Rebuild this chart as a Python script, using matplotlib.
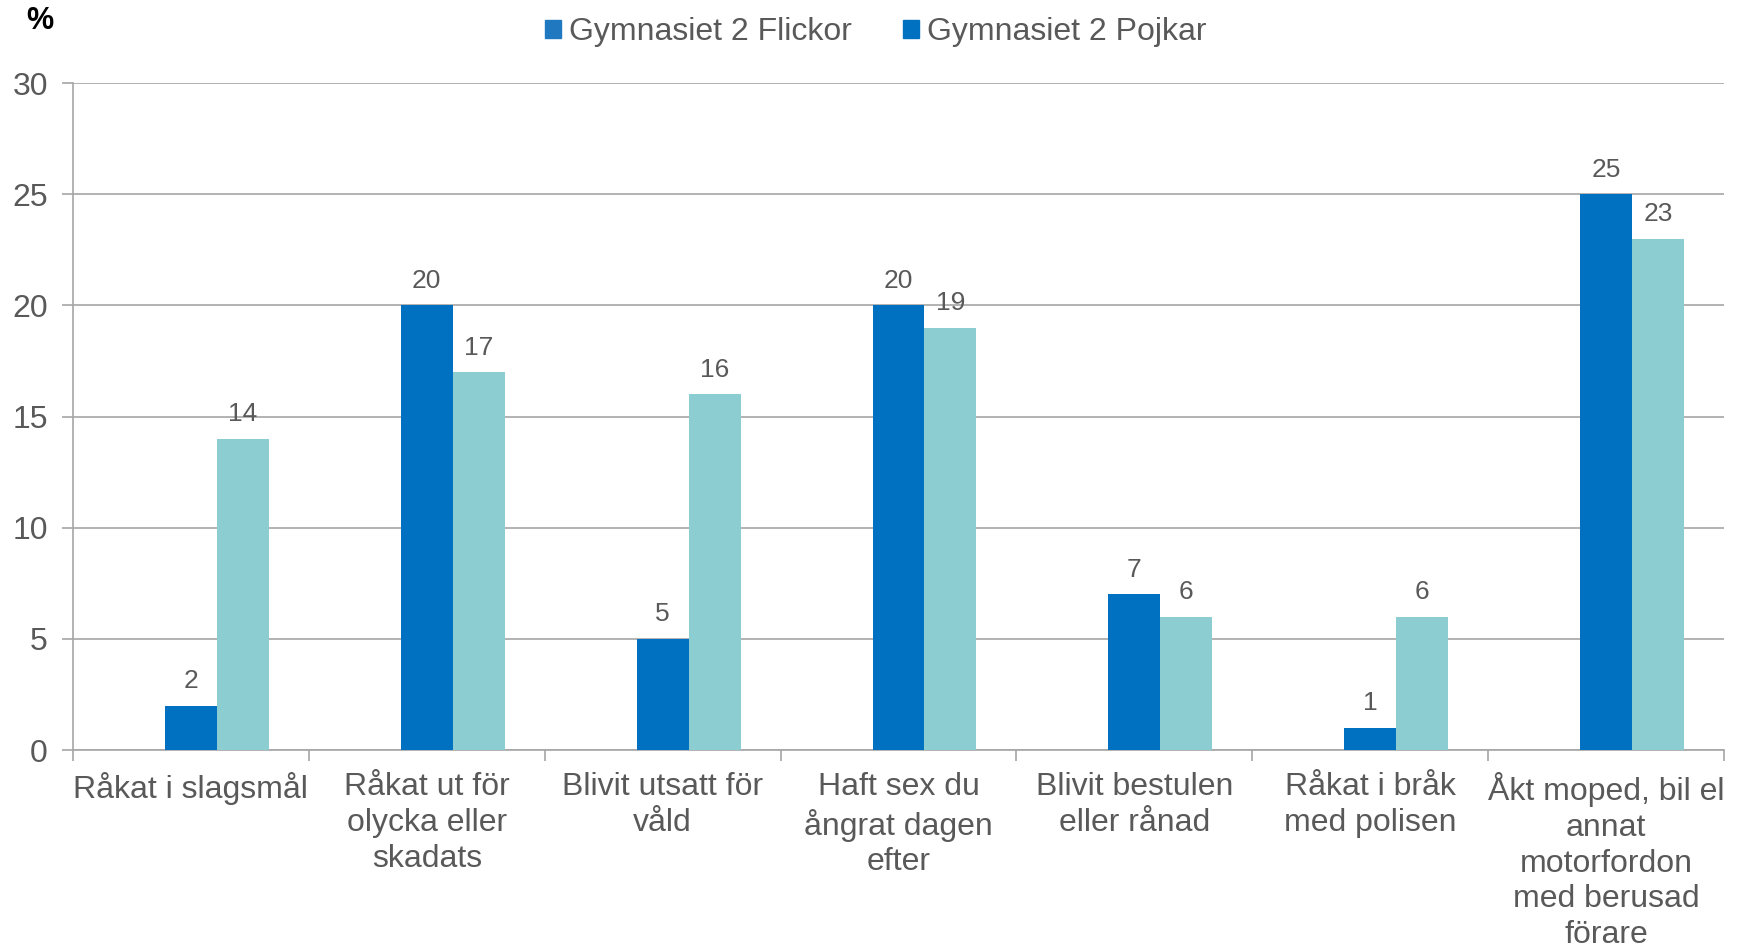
import matplotlib.pyplot as plt
import matplotlib.patches as mpatches
import numpy as np

plt.rcParams['font.family'] = ['Liberation Sans', 'DejaVu Sans']

categories = [
  'Råkat i slagsmål',
  'Råkat ut för\nolycka eller\nskadats',
  'Blivit utsatt för\nvåld',
  'Haft sex du\nångrat dagen\nefter',
  'Blivit bestulen\neller rånad',
  'Råkat i bråk\nmed polisen',
  'Åkt moped, bil el\nannat\nmotorfordon\nmed berusad\nförare',
]
flickor = [2, 20, 5, 20, 7, 1, 25]
pojkar = [14, 17, 16, 19, 6, 6, 23]
series_names = ['Gymnasiet 2 Flickor', 'Gymnasiet 2 Pojkar']

BLUE = '#0070C0'
TEAL = '#8BCDD1'
TEXT = '#595959'
GRID = '#A6A6A6'


def bargraph():
  fig = plt.figure(figsize=(17.38, 9.5), dpi=100)
  ax = fig.add_axes([0.042, 0.2105, 0.950, 0.702])

  x = np.arange(len(categories))
  w = 0.22
  ax.bar(x, flickor, w, color=BLUE, zorder=3)
  ax.bar(x + w, pojkar, w, color=TEAL, zorder=3)

  for xi, v in zip(x, flickor):
    ax.annotate(str(v), (xi, v), xytext=(0, 9), textcoords='offset points',
                ha='center', va='bottom', fontsize=19, color=TEXT)
  for xi, v in zip(x + w, pojkar):
    ax.annotate(str(v), (xi, v), xytext=(0, 9), textcoords='offset points',
                ha='center', va='bottom', fontsize=19, color=TEXT)

  ax.set_xlim(-0.5, len(categories) - 0.5)
  ax.set_ylim(0, 30)
  ax.set_yticks(np.arange(0, 31, 5))
  ax.yaxis.grid(True, color=GRID, lw=1.2, zorder=0)

  ax.set_xticks(x)
  ax.set_xticklabels(categories, fontsize=23, color=TEXT, linespacing=1.25)
  ax.set_xticks(np.arange(-0.5, len(categories), 1), minor=True)
  ax.tick_params(axis='x', which='major', length=0, pad=16)
  ax.tick_params(axis='x', which='minor', length=8, width=1.2, color=GRID)
  ax.tick_params(axis='y', length=8, width=1.2, color=GRID, labelsize=23,
                 labelcolor=TEXT, pad=10)

  for s in ['top', 'right']:
    ax.spines[s].set_visible(False)
  for s in ['left', 'bottom']:
    ax.spines[s].set_color(GRID)
    ax.spines[s].set_linewidth(1.2)

  handles = [mpatches.Patch(color='#1F78C0', label=series_names[0]),
             mpatches.Patch(color=BLUE, label=series_names[1])]
  fig.legend(handles=handles, loc='center', bbox_to_anchor=(0.504, 0.966),
             ncols=2, frameon=False, fontsize=23, labelcolor=TEXT,
             handlelength=0.5, handleheight=0.5, handletextpad=0.25,
             columnspacing=1.6)

  fig.text(0.023, 0.978, '%', fontsize=22, fontweight='bold', color='black',
           ha='center', va='center')

  plt.savefig('out.png', dpi=100)


if __name__ == "__main__":
  bargraph()
